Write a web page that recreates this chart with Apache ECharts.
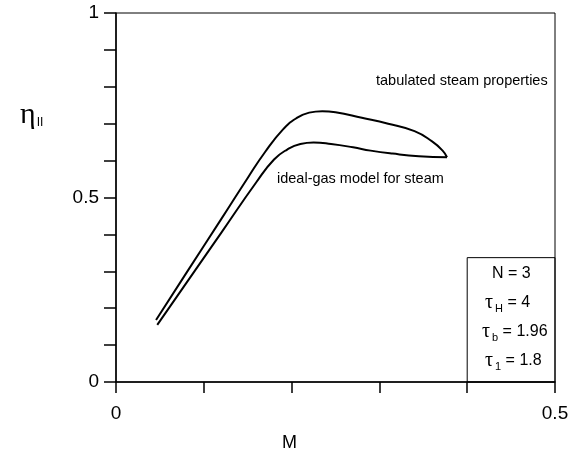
<!DOCTYPE html>
<html><head><meta charset="utf-8">
<script src="https://cdn.jsdelivr.net/npm/echarts@6/dist/echarts.min.js"></script>
<style>html,body{margin:0;padding:0;background:#fff}#c{width:572px;height:466px}</style>
</head><body><div id="c"></div>
<script>
// Data
var tabulatedM   = [0.0456, 0.08, 0.12, 0.15, 0.17, 0.19, 0.205, 0.22, 0.235, 0.25, 0.28, 0.31, 0.34, 0.36, 0.372, 0.377];
var tabulatedEta = [0.168, 0.295, 0.442, 0.553, 0.624, 0.684, 0.714, 0.730, 0.734, 0.731, 0.716, 0.700, 0.680, 0.652, 0.627, 0.609];
var idealM   = [0.047, 0.08, 0.12, 0.16, 0.18, 0.195, 0.21, 0.225, 0.245, 0.27, 0.29, 0.315, 0.345, 0.377];
var idealEta = [0.155, 0.268, 0.405, 0.542, 0.603, 0.630, 0.645, 0.649, 0.645, 0.636, 0.627, 0.619, 0.612, 0.609];
var xTickLabels = {'0': '0', '0.5': '0.5'};
var yTickLabels = {'0': '0', '0.5': '0.5', '1': '1'};
var seriesNames = ['tabulated steam properties', 'ideal-gas model for steam'];

function pairs(xs, ys){ return xs.map(function(x,i){ return [x, ys[i]]; }); }
function fmt(map){ return function(v){ var k = String(Math.round(v*10)/10); return map[k] !== undefined ? map[k] : ''; }; }

var chart = echarts.init(document.getElementById('c'), null, {renderer:'canvas'});
var font = 'Liberation Sans, Arial, sans-serif';
var serif = 'Liberation Serif, DejaVu Serif, serif';
var tauRich = {t: {fontFamily: serif, fontSize: 20, fill: '#000'}, s: {fontFamily: font, fontSize: 11, fill: '#000', padding: [11, 0, 0, 2]}, v: {fontFamily: font, fontSize: 16, fill: '#000'}};
chart.setOption({
  animation: false,
  backgroundColor: '#fff',
  grid: {left: 116, right: 17, top: 13, bottom: 84, show: true, borderColor: '#000', borderWidth: 1, backgroundColor: 'transparent'},
  xAxis: {
    type: 'value', min: 0, max: 0.5, interval: 0.1,
    axisLine: {show: true, onZero: false, lineStyle: {color: '#000', width: 1.5}},
    axisTick: {show: true, inside: false, length: 11, lineStyle: {color: '#000', width: 1.5}},
    axisLabel: {formatter: fmt(xTickLabels), margin: 22, fontFamily: font, fontSize: 19, color: '#000', showMaxLabel: true, showMinLabel: true},
    splitLine: {show: false}
  },
  yAxis: {
    type: 'value', min: 0, max: 1, interval: 0.1,
    axisLine: {show: true, onZero: false, lineStyle: {color: '#000', width: 1.5}},
    axisTick: {show: true, inside: false, length: 12, lineStyle: {color: '#000', width: 1.5}},
    axisLabel: {formatter: fmt(yTickLabels), margin: 17, fontFamily: font, fontSize: 19, color: '#000', showMaxLabel: true, showMinLabel: true},
    splitLine: {show: false}
  },
  series: [
    {name: seriesNames[0], type: 'line', data: pairs(tabulatedM, tabulatedEta), smooth: 0.5, showSymbol: false,
     lineStyle: {color: '#000', width: 2}},
    {name: seriesNames[1], type: 'line', data: pairs(idealM, idealEta), smooth: 0.5, showSymbol: false,
     lineStyle: {color: '#000', width: 2},
     markArea: {silent: true, itemStyle: {color: 'rgba(0,0,0,0)', borderColor: '#000', borderWidth: 1},
       data: [[{coord: [0.4, 0]}, {coord: [0.5, 0.337]}]]}}
  ],
  graphic: [
    {type: 'text', left: 376, top: 73, style: {text: seriesNames[0], fontFamily: font, fontSize: 14.5, fill: '#000'}},
    {type: 'text', left: 277, top: 171, style: {text: seriesNames[1], fontFamily: font, fontSize: 14.5, fill: '#000'}},
    {type: 'text', left: 282, top: 434, style: {text: 'M', fontFamily: font, fontSize: 18, fill: '#000'}},
    {type: 'text', left: 20, top: 100, style: {
      text: '{e|η}{s|II}',
      rich: {e: {fontFamily: serif, fontSize: 30, fill: '#000'}, s: {fontFamily: font, fontSize: 12, fill: '#000', padding: [16, 0, 0, 1]}}}},
    {type: 'text', left: 492, top: 266, style: {text: 'N = 3', fontFamily: font, fontSize: 16, fill: '#000'}},
    {type: 'text', left: 485, top: 293, style: {text: '{t|τ}{s|H}{v| = 4}', rich: tauRich}},
    {type: 'text', left: 482, top: 322, style: {text: '{t|τ}{s|b}{v| = 1.96}', rich: tauRich}},
    {type: 'text', left: 485, top: 351, style: {text: '{t|τ}{s|1}{v| = 1.8}', rich: tauRich}}
  ]
});
</script></body></html>
